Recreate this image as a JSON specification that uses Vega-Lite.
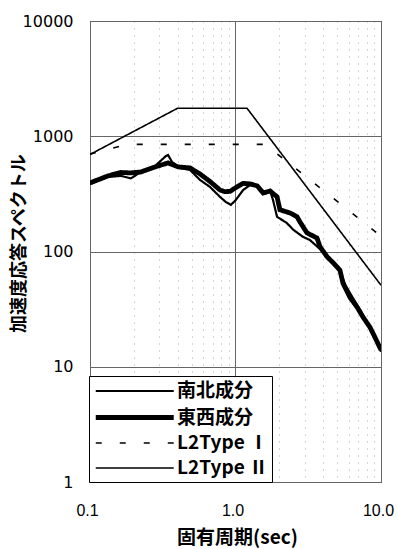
{
  "$schema": "https://vega.github.io/schema/vega-lite/v6.json",
  "autosize": {"type": "none"},
  "width": 291,
  "height": 461,
  "padding": {"left": 90, "top": 21, "right": 17, "bottom": 67},
  "background": "white",
  "config": {
    "view": {"stroke": "#222", "strokeWidth": 1},
    "axis": {"ticks": false, "domain": false}
  },
  "data": {
    "values": [
      {"series": "南北成分", "T": 0.1, "S": 385},
      {"series": "南北成分", "T": 0.133, "S": 444},
      {"series": "南北成分", "T": 0.163, "S": 453},
      {"series": "南北成分", "T": 0.191, "S": 431},
      {"series": "南北成分", "T": 0.224, "S": 490},
      {"series": "南北成分", "T": 0.28, "S": 552},
      {"series": "南北成分", "T": 0.333, "S": 675},
      {"series": "南北成分", "T": 0.344, "S": 688},
      {"series": "南北成分", "T": 0.366, "S": 599},
      {"series": "南北成分", "T": 0.416, "S": 531},
      {"series": "南北成分", "T": 0.487, "S": 510},
      {"series": "南北成分", "T": 0.57, "S": 418},
      {"series": "南北成分", "T": 0.668, "S": 363},
      {"series": "南北成分", "T": 0.782, "S": 298},
      {"series": "南北成分", "T": 0.86, "S": 268},
      {"series": "南北成分", "T": 0.93, "S": 254},
      {"series": "南北成分", "T": 1.0, "S": 278},
      {"series": "南北成分", "T": 1.13, "S": 342},
      {"series": "南北成分", "T": 1.26, "S": 378},
      {"series": "南北成分", "T": 1.41, "S": 371},
      {"series": "南北成分", "T": 1.55, "S": 329},
      {"series": "南北成分", "T": 1.73, "S": 335},
      {"series": "南北成分", "T": 1.81, "S": 280},
      {"series": "南北成分", "T": 1.93, "S": 200},
      {"series": "南北成分", "T": 2.25, "S": 177},
      {"series": "南北成分", "T": 2.5, "S": 154},
      {"series": "南北成分", "T": 2.91, "S": 134},
      {"series": "南北成分", "T": 3.24, "S": 126},
      {"series": "南北成分", "T": 3.81, "S": 105},
      {"series": "南北成分", "T": 4.26, "S": 90},
      {"series": "南北成分", "T": 4.68, "S": 78},
      {"series": "南北成分", "T": 5.22, "S": 67},
      {"series": "南北成分", "T": 5.7, "S": 51},
      {"series": "南北成分", "T": 6.3, "S": 41},
      {"series": "南北成分", "T": 7.2, "S": 31},
      {"series": "南北成分", "T": 8.1, "S": 23.5},
      {"series": "南北成分", "T": 9.09, "S": 17.8},
      {"series": "南北成分", "T": 10, "S": 13.5},
      {"series": "東西成分", "T": 0.1, "S": 394},
      {"series": "東西成分", "T": 0.133, "S": 453},
      {"series": "東西成分", "T": 0.163, "S": 485},
      {"series": "東西成分", "T": 0.191, "S": 481},
      {"series": "東西成分", "T": 0.224, "S": 490},
      {"series": "東西成分", "T": 0.28, "S": 542},
      {"series": "東西成分", "T": 0.344, "S": 587},
      {"series": "東西成分", "T": 0.403, "S": 542},
      {"series": "東西成分", "T": 0.487, "S": 531},
      {"series": "東西成分", "T": 0.57, "S": 471},
      {"series": "東西成分", "T": 0.668, "S": 405},
      {"series": "東西成分", "T": 0.782, "S": 342},
      {"series": "東西成分", "T": 0.84, "S": 331},
      {"series": "東西成分", "T": 0.916, "S": 332},
      {"series": "東西成分", "T": 1.02, "S": 363},
      {"series": "東西成分", "T": 1.13, "S": 390},
      {"series": "東西成分", "T": 1.26, "S": 386},
      {"series": "東西成分", "T": 1.41, "S": 371},
      {"series": "東西成分", "T": 1.55, "S": 322},
      {"series": "東西成分", "T": 1.73, "S": 335},
      {"series": "東西成分", "T": 1.93, "S": 298},
      {"series": "東西成分", "T": 2.02, "S": 230},
      {"series": "東西成分", "T": 2.37, "S": 216},
      {"series": "東西成分", "T": 2.65, "S": 200},
      {"series": "東西成分", "T": 2.77, "S": 181},
      {"series": "東西成分", "T": 3.1, "S": 145},
      {"series": "東西成分", "T": 3.63, "S": 131},
      {"series": "東西成分", "T": 3.81, "S": 110},
      {"series": "東西成分", "T": 4.26, "S": 90},
      {"series": "東西成分", "T": 4.68, "S": 80},
      {"series": "東西成分", "T": 5.22, "S": 69},
      {"series": "東西成分", "T": 5.48, "S": 53},
      {"series": "東西成分", "T": 6.12, "S": 40},
      {"series": "東西成分", "T": 6.84, "S": 33},
      {"series": "東西成分", "T": 7.52, "S": 27},
      {"series": "東西成分", "T": 8.4, "S": 22},
      {"series": "東西成分", "T": 9.09, "S": 18},
      {"series": "東西成分", "T": 10, "S": 14},
      {"series": "L2Type Ⅰ", "T": 0.1, "S": 700},
      {"series": "L2Type Ⅰ", "T": 0.18, "S": 850},
      {"series": "L2Type Ⅰ", "T": 1.6, "S": 850},
      {"series": "L2Type Ⅰ", "T": 10, "S": 136},
      {"series": "L2Type Ⅱ", "T": 0.1, "S": 695},
      {"series": "L2Type Ⅱ", "T": 0.4, "S": 1750},
      {"series": "L2Type Ⅱ", "T": 1.2, "S": 1750},
      {"series": "L2Type Ⅱ", "T": 10, "S": 51}
    ]
  },
  "mark": {"type": "line", "color": "black", "clip": true},
  "encoding": {
    "x": {
      "field": "T",
      "type": "quantitative",
      "scale": {"type": "log", "domain": [0.1, 10], "nice": false},
      "axis": {
        "values": [0.1, 0.2, 0.3, 0.4, 0.5, 0.6, 0.7, 0.8, 0.9, 1, 2, 3, 4, 5, 6, 7, 8, 9, 10],
        "labelExpr": "abs(log(datum.value)/LN10 - round(log(datum.value)/LN10)) < 1e-6 ? format(datum.value, '.1f') : ''",
        "labelFlush": false,
        "labelOverlap": false,
        "labelFont": "Liberation Sans",
        "labelFontSize": 16,
        "labelColor": "black",
        "labelPadding": 20,
        "labelOffset": -3,
        "grid": true,
        "gridColor": {"condition": {"test": "abs(log(datum.value)/LN10 - round(log(datum.value)/LN10)) < 1e-6", "value": "#666"}, "value": "#aaa"},
        "gridDash": {"condition": {"test": "abs(log(datum.value)/LN10 - round(log(datum.value)/LN10)) < 1e-6", "value": []}, "value": [1, 6]},
        "gridWidth": 1,
        "title": "固有周期(sec)",
        "titleFont": "Noto Sans CJK JP",
        "titleFontWeight": "bold",
        "titleFontSize": 19,
        "titleColor": "black",
        "titleX": 147,
        "titleY": 55,
        "titleBaseline": "middle",
        "titleAlign": "center"
      }
    },
    "y": {
      "field": "S",
      "type": "quantitative",
      "scale": {"type": "log", "domain": [1, 10000], "nice": false},
      "axis": {
        "values": [1, 10, 100, 1000, 10000],
        "format": "d",
        "labelFont": "DejaVu Sans",
        "labelFontSize": 16,
        "labelColor": "black",
        "labelPadding": 17,
        "labelOverlap": false,
        "labelFlush": false,
        "grid": true,
        "gridColor": "#666",
        "gridWidth": 1,
        "title": "加速度応答スペクトル",
        "titleFont": "Noto Sans CJK JP",
        "titleFontWeight": "bold",
        "titleFontSize": 18,
        "titleColor": "black",
        "titleAngle": -90,
        "titleX": -71,
        "titleY": 222,
        "titleBaseline": "middle",
        "titleAlign": "center"
      }
    },
    "strokeWidth": {
      "field": "series",
      "type": "nominal",
      "scale": {"type": "ordinal", "domain": ["南北成分", "東西成分", "L2Type Ⅰ", "L2Type Ⅱ"], "range": [2.2, 4.8, 1.6, 1.6]},
      "legend": null
    },
    "strokeDash": {
      "field": "series",
      "type": "nominal",
      "scale": {"type": "ordinal", "domain": ["南北成分", "東西成分", "L2Type Ⅰ", "L2Type Ⅱ"], "range": [[1, 0], [1, 0], [6, 18], [1, 0]]},
      "legend": {
        "title": null,
        "orient": "none",
        "legendX": -1,
        "legendY": 355,
        "symbolType": "M-1,0H7",
        "symbolSize": 380,
        "symbolStrokeColor": "black",
        "labelOffset": 59,
        "labelFont": "Noto Sans CJK JP",
        "labelFontWeight": "bold",
        "labelFontSize": 19,
        "labelColor": "black",
        "rowPadding": 4,
        "padding": 4,
        "strokeColor": "black",
        "fillColor": "white",
        "cornerRadius": 0,
        "encode": {
          "symbols": {"update": {
            "strokeDash": {"signal": "datum.value === 'L2Type Ⅰ' ? [4, 11] : [1, 0]"},
            "strokeWidth": {"signal": "datum.value === '東西成分' ? 4.8 : (datum.value === '南北成分' ? 2.8 : 1.8)"},
            "stroke": {"value": "black"}
          }}
        }
      }
    },
    "order": {"field": "T", "type": "quantitative"}
  }
}
